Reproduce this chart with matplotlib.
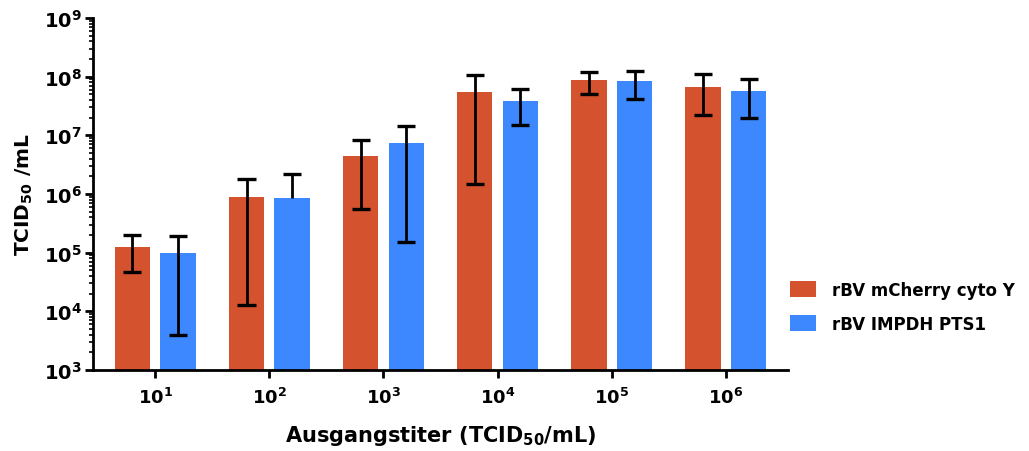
import numpy as np
import matplotlib
matplotlib.use("Agg")
import matplotlib.pyplot as plt
from matplotlib.ticker import LogLocator, NullFormatter

# Starting titre of each infection (exponent of 10)
start_exponents = [1, 2, 3, 4, 5, 6]

series_names = ["rBV mCherry cyto Y", "rBV IMPDH PTS1"]

# Mean TCID50/mL and standard deviation per starting titre
mcherry_mean = [1.23e5, 8.95e5, 4.5e6, 5.5e7, 8.6e7, 6.6e7]
mcherry_sd = [7.7e4, 8.82e5, 3.95e6, 5.35e7, 3.5e7, 4.35e7]

impdh_mean = [9.7e4, 8.65e5, 7.3e6, 3.8e7, 8.4e7, 5.6e7]
impdh_sd = [9.3e4, 1.35e6, 7.15e6, 2.3e7, 4.2e7, 3.65e7]

colors = ["#D4522D", "#3D88FF"]

plt.rcParams["font.family"] = "DejaVu Sans"
plt.rcParams["font.weight"] = "bold"
plt.rcParams["mathtext.default"] = "bf"

fig = plt.figure(figsize=(10.29, 4.52), dpi=100)
ax = fig.add_axes([0.0904, 0.1792, 0.6754, 0.7788])

x = np.arange(len(start_exponents))
bar_w = 0.31
offsets = [-0.2, 0.2]
cap_half = 0.079

for off, means, sds, col, name in zip(offsets, [mcherry_mean, impdh_mean],
                                       [mcherry_sd, impdh_sd], colors, series_names):
    xs = x + off
    ax.bar(xs, means, width=bar_w, color=col, label=name, zorder=2)
    for xi, m, s in zip(xs, means, sds):
        hi = m + s
        lo = m - s
        # a negative lower bound cannot be shown on a log axis
        bottom = lo if lo > 0 else m
        ax.vlines(xi, bottom, hi, color="black", lw=2.0, zorder=3)
        ax.hlines(hi, xi - cap_half, xi + cap_half, color="black", lw=2.4, zorder=3)
        if lo > 0:
            ax.hlines(lo, xi - cap_half, xi + cap_half, color="black", lw=2.4, zorder=3)

ax.set_yscale("log")
ax.set_ylim(1e3, 1e9)
ax.set_xlim(-0.545, len(start_exponents) - 1 + 0.545)

major = [10.0 ** k for k in range(3, 10)]
ax.set_yticks(major)
ax.set_yticklabels([f"$10^{{{k}}}$" for k in range(3, 10)], fontsize=14)
ax.yaxis.set_minor_locator(LogLocator(base=10, subs=np.arange(2, 10), numticks=20))
ax.yaxis.set_minor_formatter(NullFormatter())

ax.set_xticks(x)
ax.set_xticklabels([f"$10^{{{e}}}$" for e in start_exponents], fontsize=13)

for side in ["top", "right"]:
    ax.spines[side].set_visible(False)
for side in ["left", "bottom"]:
    ax.spines[side].set_linewidth(2.0)

ax.tick_params(axis="y", which="major", length=6, width=2.0, pad=2)
ax.tick_params(axis="y", which="minor", length=3, width=1.2)
ax.tick_params(axis="x", which="major", length=6, width=2.0, pad=6)

ax.set_ylabel("TCID$_{50}$ /mL", fontsize=14.5, fontweight="bold", labelpad=6)
ax.set_xlabel("Ausgangstiter (TCID$_{50}$/mL)", fontsize=15, fontweight="bold", labelpad=12)

leg = ax.legend(loc="center left", bbox_to_anchor=(1.0, 0.18), frameon=False,
                fontsize=12, handlelength=1.6, handleheight=1.15, labelspacing=0.95,
                handletextpad=0.95, borderaxespad=0.0, borderpad=0.1)

fig.savefig("out.png", dpi=100)
